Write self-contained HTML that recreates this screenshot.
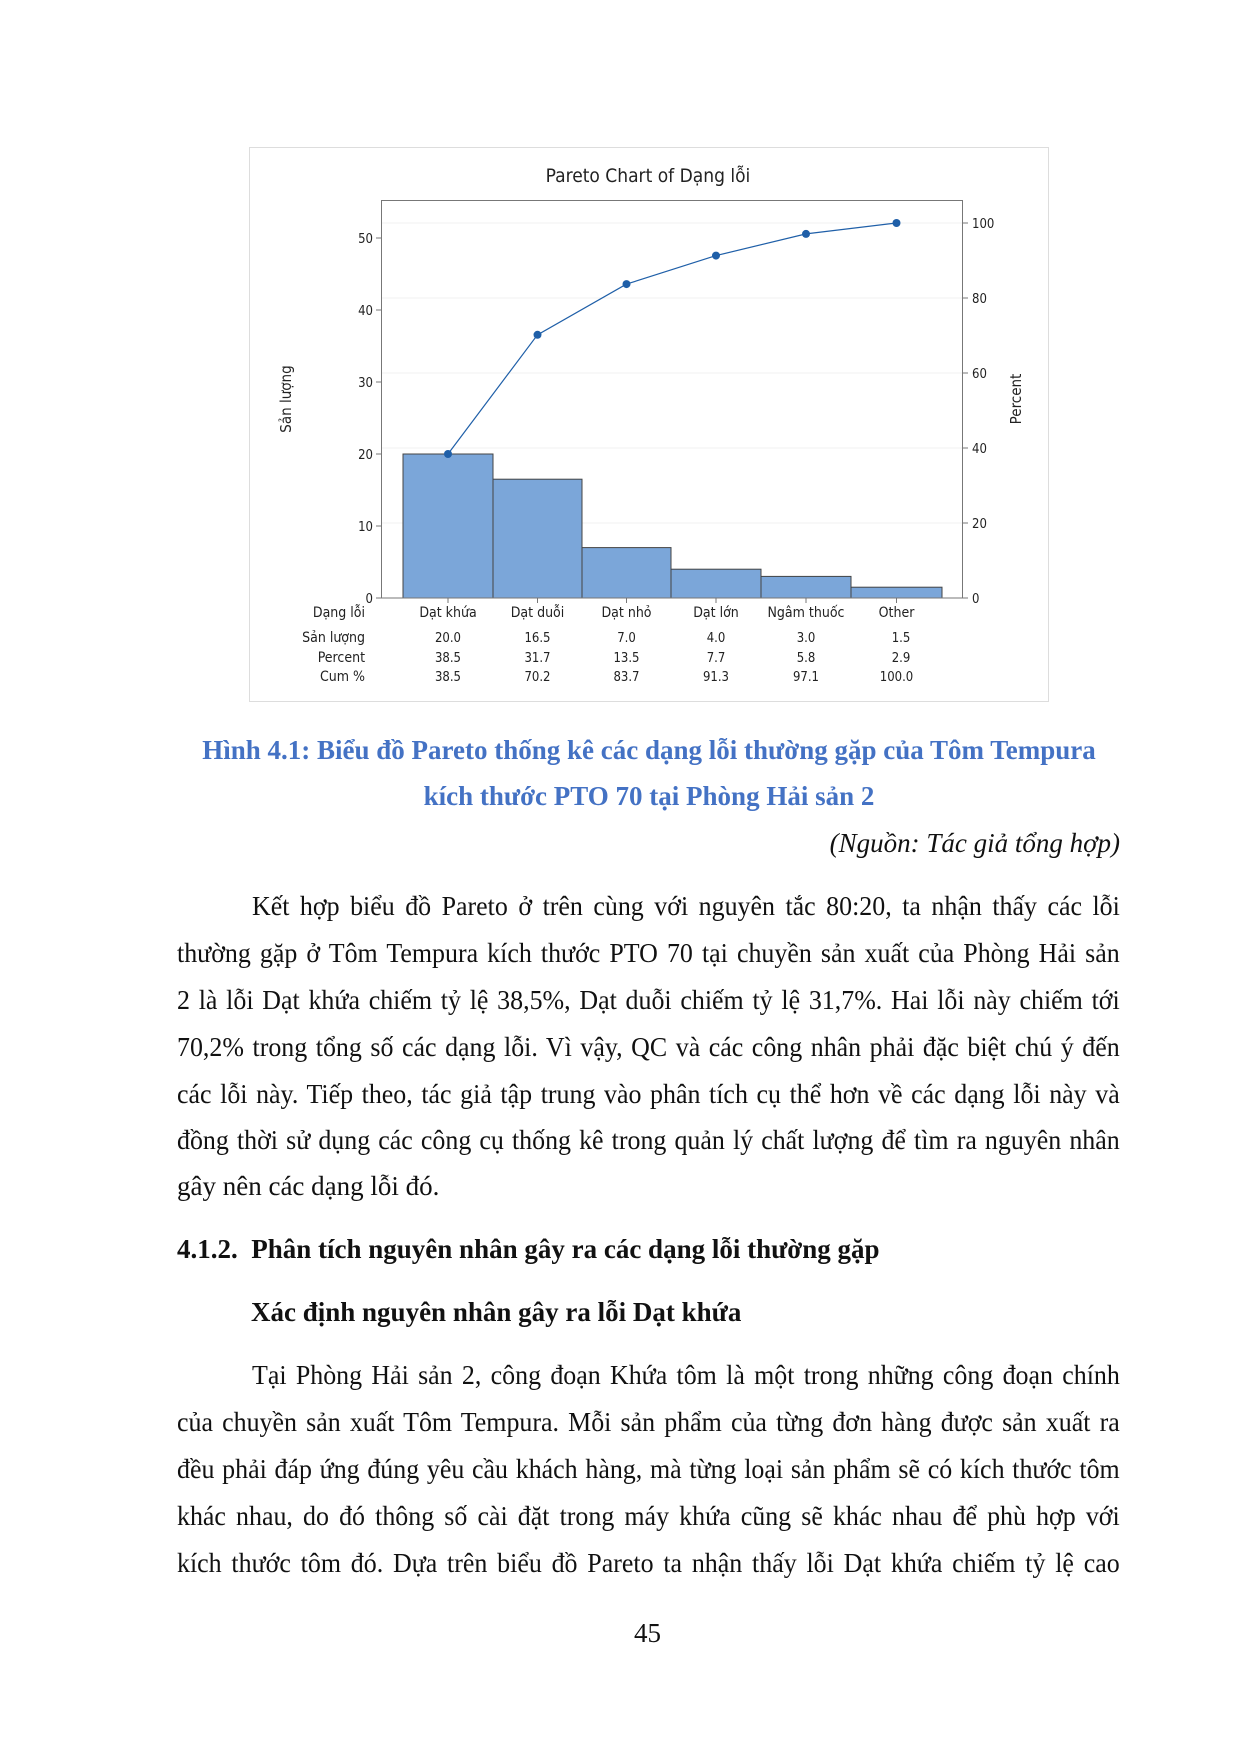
<!DOCTYPE html>
<html><head><meta charset="utf-8">
<style>
html,body{margin:0;padding:0;background:#fff;}
body{width:1240px;height:1754px;position:relative;overflow:hidden;font-family:"Liberation Serif",serif;color:#111;}
.l{position:absolute;white-space:nowrap;font-size:27px;line-height:34px;height:34px;}
.j{text-align:justify;text-align-last:justify;transform:scaleX(0.96);transform-origin:left center;}
.cap{position:absolute;font-family:"Liberation Serif",serif;font-weight:bold;color:#4472c4;font-size:27px;line-height:34px;white-space:nowrap;text-align:center;width:1240px;left:29px;}
svg text{font-family:"DejaVu Sans Condensed","Liberation Sans",sans-serif;fill:#222;}
</style></head><body>
<svg width="1240" height="1754" style="position:absolute;left:0;top:0">
<rect x="249.5" y="147.5" width="799" height="554" fill="#fff" stroke="#ddd"/>
<text x="648" y="182" font-size="19" text-anchor="middle" fill="#333">Pareto Chart of Dạng lỗi</text>
<g stroke="#f0f0f0">
<line x1="381" x2="963" y1="523" y2="523"/><line x1="381" x2="963" y1="448" y2="448"/>
<line x1="381" x2="963" y1="373" y2="373"/><line x1="381" x2="963" y1="298" y2="298"/>
<line x1="381" x2="963" y1="223" y2="223"/>
</g>
<g fill="#7ba6d9" stroke="#444" stroke-width="1">
<rect x="403" y="454" width="90" height="144"/>
<rect x="493" y="479.2" width="89" height="118.8"/>
<rect x="582" y="547.6" width="89" height="50.4"/>
<rect x="671" y="569.2" width="90" height="28.8"/>
<rect x="761" y="576.4" width="90" height="21.6"/>
<rect x="851" y="587.2" width="91" height="10.8"/>
</g>
<rect x="381.5" y="200.5" width="581" height="397.5" fill="none" stroke="#777"/>
<g stroke="#777">
<line x1="376" x2="381" y1="598" y2="598"/><line x1="376" x2="381" y1="526" y2="526"/>
<line x1="376" x2="381" y1="454" y2="454"/><line x1="376" x2="381" y1="382" y2="382"/>
<line x1="376" x2="381" y1="310" y2="310"/><line x1="376" x2="381" y1="238" y2="238"/>
<line x1="963" x2="968" y1="598" y2="598"/><line x1="963" x2="968" y1="523" y2="523"/>
<line x1="963" x2="968" y1="448" y2="448"/><line x1="963" x2="968" y1="373" y2="373"/>
<line x1="963" x2="968" y1="298" y2="298"/><line x1="963" x2="968" y1="223" y2="223"/>
<line x1="448" x2="448" y1="598" y2="603"/><line x1="537.5" x2="537.5" y1="598" y2="603"/>
<line x1="626.5" x2="626.5" y1="598" y2="603"/><line x1="716" x2="716" y1="598" y2="603"/>
<line x1="806" x2="806" y1="598" y2="603"/><line x1="896.5" x2="896.5" y1="598" y2="603"/>
</g>
<g font-size="13" text-anchor="end">
<text x="373" y="603">0</text><text x="373" y="531">10</text><text x="373" y="459">20</text>
<text x="373" y="387">30</text><text x="373" y="315">40</text><text x="373" y="243">50</text>
</g>
<g font-size="13">
<text x="972" y="603">0</text><text x="972" y="528">20</text><text x="972" y="453">40</text>
<text x="972" y="378">60</text><text x="972" y="303">80</text><text x="972" y="228">100</text>
</g>
<text transform="translate(291,399) rotate(-90)" font-size="15" text-anchor="middle" fill="#444">Sản lượng</text>
<text transform="translate(1021,399) rotate(-90)" font-size="15" text-anchor="middle" fill="#444">Percent</text>
<polyline points="448,454 537.5,334.8 626.5,284.1 716,255.6 806,233.9 896.5,223" fill="none" stroke="#1f5fa8" stroke-width="1.2"/>
<g fill="#1f5fa8">
<circle cx="448" cy="454" r="4"/><circle cx="537.5" cy="334.8" r="4"/><circle cx="626.5" cy="284.1" r="4"/>
<circle cx="716" cy="255.6" r="4"/><circle cx="806" cy="233.9" r="4"/><circle cx="896.5" cy="223" r="4"/>
</g>
<g font-size="14" text-anchor="end">
<text x="365" y="617">Dạng lỗi</text><text x="365" y="642">Sản lượng</text>
<text x="365" y="662">Percent</text><text x="365" y="681">Cum %</text>
</g>
<g font-size="14" text-anchor="middle">
<text x="448" y="617">Dạt khứa</text><text x="537.5" y="617">Dạt duỗi</text><text x="626.5" y="617">Dạt nhỏ</text>
<text x="716" y="617">Dạt lớn</text><text x="806" y="617">Ngâm thuốc</text><text x="896.5" y="617">Other</text>
</g>
<g font-size="13" text-anchor="middle">
<text x="448" y="642">20.0</text><text x="537.5" y="642">16.5</text><text x="626.5" y="642">7.0</text><text x="716" y="642">4.0</text><text x="806" y="642">3.0</text><text x="901" y="642">1.5</text>
<text x="448" y="662">38.5</text><text x="537.5" y="662">31.7</text><text x="626.5" y="662">13.5</text><text x="716" y="662">7.7</text><text x="806" y="662">5.8</text><text x="901" y="662">2.9</text>
<text x="448" y="681">38.5</text><text x="537.5" y="681">70.2</text><text x="626.5" y="681">83.7</text><text x="716" y="681">91.3</text><text x="806" y="681">97.1</text><text x="896.5" y="681">100.0</text>
</g>
</svg>

<div class="cap" style="top:733px">Hình 4.1: Biểu đồ Pareto thống kê các dạng lỗi thường gặp của Tôm Tempura</div>
<div class="cap" style="top:779px">kích thước PTO 70 tại Phòng Hải sản 2</div>
<div class="l" style="top:826px;left:760px;font-style:italic;width:360px;text-align:right;">(Nguồn: Tác giả tổng hợp)</div>

<div class="l j" style="top:889px;left:252px;width:904px">Kết hợp biểu đồ Pareto ở trên cùng với nguyên tắc 80:20, ta nhận thấy các lỗi</div>
<div class="l j" style="top:936px;left:177px;width:982px">thường gặp ở Tôm Tempura kích thước PTO 70 tại chuyền sản xuất của Phòng Hải sản</div>
<div class="l j" style="top:983px;left:177px;width:982px">2 là lỗi Dạt khứa chiếm tỷ lệ 38,5%, Dạt duỗi chiếm tỷ lệ 31,7%. Hai lỗi này chiếm tới</div>
<div class="l j" style="top:1030px;left:177px;width:982px">70,2% trong tổng số các dạng lỗi. Vì vậy, QC và các công nhân phải đặc biệt chú ý đến</div>
<div class="l j" style="top:1077px;left:177px;width:982px">các lỗi này. Tiếp theo, tác giả tập trung vào phân tích cụ thể hơn về các dạng lỗi này và</div>
<div class="l j" style="top:1123px;left:177px;width:982px">đồng thời sử dụng các công cụ thống kê trong quản lý chất lượng để tìm ra nguyên nhân</div>
<div class="l" style="top:1169px;left:177px;">gây nên các dạng lỗi đó.</div>

<div class="l" style="top:1232px;left:177px;font-weight:bold;">4.1.2.&nbsp; Phân tích nguyên nhân gây ra các dạng lỗi thường gặp</div>
<div class="l" style="top:1295px;left:251px;font-weight:bold;">Xác định nguyên nhân gây ra lỗi Dạt khứa</div>

<div class="l j" style="top:1358px;left:252px;width:904px">Tại Phòng Hải sản 2, công đoạn Khứa tôm là một trong những công đoạn chính</div>
<div class="l j" style="top:1405px;left:177px;width:982px">của chuyền sản xuất Tôm Tempura. Mỗi sản phẩm của từng đơn hàng được sản xuất ra</div>
<div class="l j" style="top:1452px;left:177px;width:982px">đều phải đáp ứng đúng yêu cầu khách hàng, mà từng loại sản phẩm sẽ có kích thước tôm</div>
<div class="l j" style="top:1499px;left:177px;width:982px">khác nhau, do đó thông số cài đặt trong máy khứa cũng sẽ khác nhau để phù hợp với</div>
<div class="l j" style="top:1546px;left:177px;width:982px">kích thước tôm đó. Dựa trên biểu đồ Pareto ta nhận thấy lỗi Dạt khứa chiếm tỷ lệ cao</div>

<div class="l" style="top:1616px;left:634px;">45</div>
</body></html>
